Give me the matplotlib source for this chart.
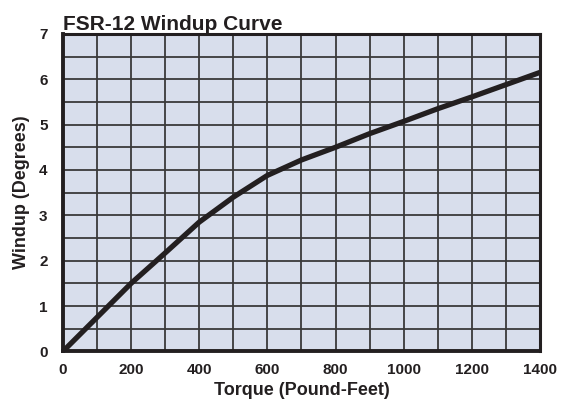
import matplotlib
matplotlib.use("Agg")
import matplotlib.pyplot as plt

torque = [0, 100, 200, 300, 400, 500, 600, 700, 800, 900, 1000, 1100, 1200, 1300, 1400]
windup = [0, 0.75, 1.5, 2.17, 2.85, 3.4, 3.88, 4.22, 4.5, 4.8, 5.07, 5.35, 5.61, 5.88, 6.15]
xticks = [0, 200, 400, 600, 800, 1000, 1200, 1400]
yticks = [0, 1, 2, 3, 4, 5, 6, 7]

plt.rcParams['font.family'] = ['Liberation Sans', 'DejaVu Sans']

fig = plt.figure(figsize=(5.72, 4.03), dpi=100)
ax = fig.add_axes([0.110, 0.128, 0.834, 0.788])
ax.set_facecolor('#d8deec')

ax.set_xlim(0, 1400)
ax.set_ylim(0, 7)
ax.set_xticks(range(0, 1401, 100), minor=True)
ax.set_yticks([i * 0.5 for i in range(15)], minor=True)
ax.set_xticks(xticks)
ax.set_yticks(yticks)
ax.set_xticklabels([str(v) for v in xticks], fontsize=11, fontweight='bold', color='#231f20')
ax.set_yticklabels([str(v) for v in yticks], fontsize=11, fontweight='bold', color='#231f20')
ax.tick_params(which='both', length=0)
ax.tick_params(axis='x', pad=8)
ax.tick_params(axis='y', pad=11)

ax.grid(which='both', color='#3a3a3a', linewidth=1.3)
ax.set_axisbelow(True)

ax.plot(torque, windup, color='#231f20', linewidth=3.8, solid_capstyle='butt', zorder=3)

for side, sp in ax.spines.items():
    sp.set_color('#231f20')
    sp.set_linewidth(2.2)
ax.spines['left'].set_linewidth(2.8)
ax.spines['bottom'].set_linewidth(2.8)

ax.set_xlabel('Torque (Pound-Feet)', fontsize=13, fontweight='bold', color='#231f20', labelpad=4)
ax.set_ylabel('Windup (Degrees)', fontsize=13, fontweight='bold', color='#231f20', labelpad=6)
ax.yaxis.set_label_coords(-0.07, 0.5)
ax.set_title('FSR-12 Windup Curve', fontsize=15, fontweight='bold', color='#231f20', loc='left', pad=3)

fig.savefig('out.png', dpi=100)
